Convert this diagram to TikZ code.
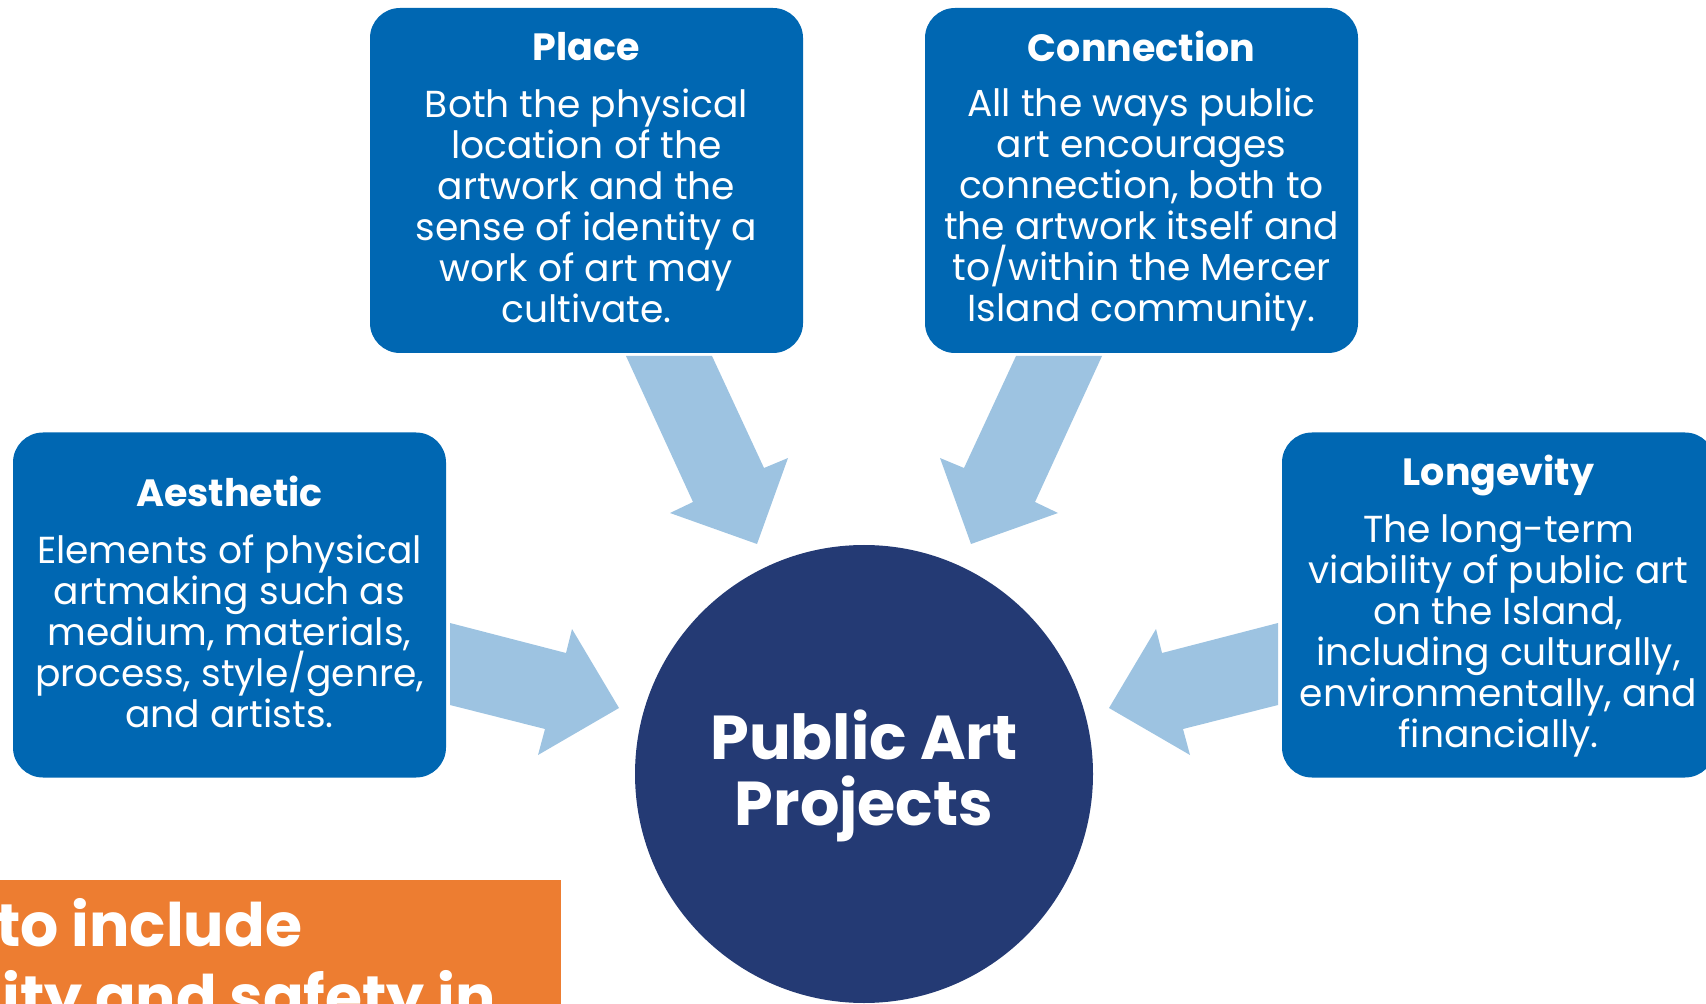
\documentclass[tikz,border=0pt]{standalone}
\usepackage{fontspec}
\setmainfont{Poppins}
\usetikzlibrary{positioning}

\definecolor{boxblue}{RGB}{0,103,178}
\definecolor{hubnavy}{RGB}{36,58,116}
\definecolor{arrowblue}{RGB}{157,195,225}
\definecolor{noteorange}{RGB}{237,125,49}

\begin{document}
\begin{tikzpicture}[
  x=0.5pt, y=-0.5pt,
  box/.style={fill=boxblue, rounded corners=15pt, minimum width=216.5pt,
              minimum height=172.5pt, inner sep=0pt},
  ttl/.style={text=white, font=\fontsize{19}{20.5}\selectfont\bfseries},
  body/.style={text=white, align=center, inner sep=0pt,
               font=\fontsize{18.8}{20.5}\selectfont},
  arr/.style={fill=arrowblue},
  note/.style={text=white, inner sep=0pt, font=\fontsize{30}{36}\selectfont\bfseries},
]
\useasboundingbox (0,0) rectangle (1706,1004);
\clip (0,0) rectangle (1706,1004);

%% ====================================================
%% Four boxes
%% ====================================================
\node[box] (place) at (586.5,180.5) {};
\node[ttl] (placeT) at (586.5,47) {Place};
\node[body] (placeB) at (586.5,206) {Both the physical\\location of the\\artwork and the\\sense of identity a\\work of art may\\cultivate.};

\node[box] (conn) at (1141.5,180.5) {};
\node[ttl] (connT) at (1141.5,46) {Connection};
\node[body] (connB) at (1141.5,210) {All the ways public\\art encourages\\connection, both to\\the artwork itself and\\to/within the Mercer\\Island community.};

\node[box] (aes) at (229.5,605) {};
\node[ttl] (aesT) at (229.5,491) {Aesthetic};
\node[body] (aesB) at (229.5,631) {Elements of physical\\artmaking such as\\medium, materials,\\process, style/genre,\\and artists.};

\node[box] (lon) at (1498.5,605) {};
\node[ttl] (lonT) at (1498.5,476) {Longevity};
\node[body] (lonB) at (1498.5,636) {The long-term\\viability of public art\\on the Island,\\including culturally,\\environmentally, and\\financially.};

%% ====================================================
%% Hub
%% ====================================================
\node[circle, fill=hubnavy, minimum size=229pt, inner sep=0pt] (hub) at (864,774) {};
\node[text=white, align=center, font=\fontsize{31}{32.6}\selectfont\bfseries] (hubT) at (864,776) {Public Art\\Projects};

%% Block arrows into the hub
\fill[arr] (450,623) -- (566,653) -- (572,629) -- (619,708) -- (538,755) -- (545,729) -- (450,705) -- cycle;
\fill[arr] (1278,623) -- (1162,653) -- (1156,629) -- (1109,708) -- (1190,755) -- (1183,729) -- (1278,705) -- cycle;
\fill[arr] (626,356) -- (712,356) -- (764,468) -- (788,458) -- (757,544) -- (670,513) -- (693,502) -- cycle;
\fill[arr] (1102,356) -- (1016,356) -- (964,468) -- (940,458) -- (971,544) -- (1058,513) -- (1035,502) -- cycle;

%% ====================================================
%% Orange note (cut off)
%% ====================================================
\fill[noteorange] (0,880) rectangle (561,1010);
\node[note, anchor=base west] (note1) at (-4,946) {to include};
\node[note, anchor=base west] (note2) at (2,1018) {ity and safety in};

\end{tikzpicture}
\end{document}
